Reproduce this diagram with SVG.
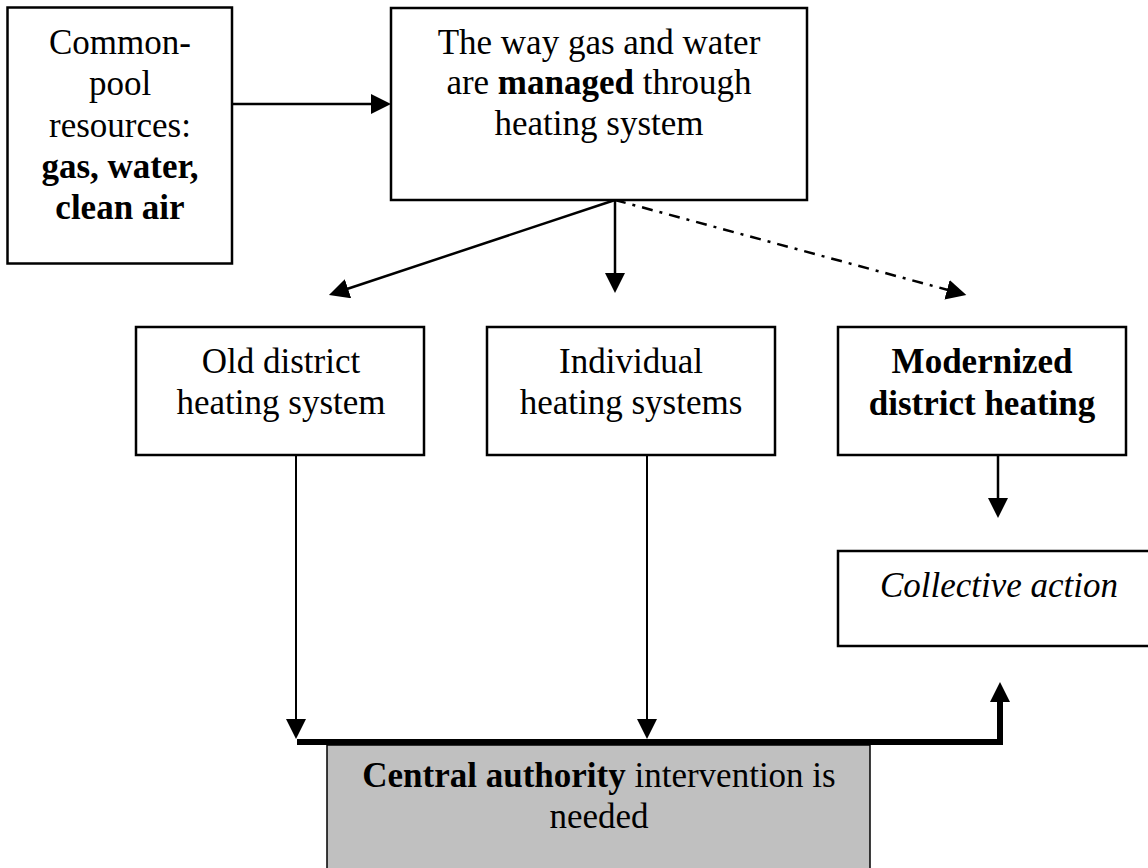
<svg xmlns="http://www.w3.org/2000/svg" width="1148" height="868" viewBox="0 0 1148 868">
<style>
  .box { fill: #ffffff; stroke: #000000; stroke-width: 2.5; }
  .gray { fill: #c0c0c0; stroke: #000000; stroke-width: 1.5; }
  text { font-family: "Liberation Serif", "Times New Roman", serif; font-size: 35px; fill: #000000; text-anchor: middle; }
  .b { font-weight: bold; }
  .i { font-style: italic; }
  .ln { fill: none; stroke: #000000; stroke-width: 2.5; }
  .thin { fill: none; stroke: #000000; stroke-width: 2; }
  .dd { fill: none; stroke: #000000; stroke-width: 2.5; stroke-dasharray: 11 7 3 7; }
  .bus { fill: none; stroke: #000000; stroke-width: 6; }
</style>
<defs>
  <marker id="ah" markerUnits="userSpaceOnUse" markerWidth="22" markerHeight="22" refX="1" refY="10" orient="auto" viewBox="0 0 22 22">
    <path d="M0,0 L20,10 L0,20 Z" fill="#000000"/>
  </marker>
</defs>
<rect width="1148" height="868" fill="#ffffff"/>

<g id="connectors">
  <line class="ln" x1="232" y1="104" x2="372" y2="104" marker-end="url(#ah)"/>
  <line class="ln" x1="615" y1="200" x2="347" y2="289" marker-end="url(#ah)"/>
  <line class="ln" x1="615" y1="200" x2="615" y2="274" marker-end="url(#ah)"/>
  <line class="dd" x1="615" y1="200" x2="948" y2="290" marker-end="url(#ah)"/>
  <line class="thin" x1="296" y1="455" x2="296" y2="720" marker-end="url(#ah)"/>
  <line class="thin" x1="647" y1="455" x2="647" y2="720" marker-end="url(#ah)"/>
  <line class="ln" x1="998" y1="455" x2="998" y2="499" marker-end="url(#ah)"/>
  <line class="bus" x1="297" y1="742" x2="1003" y2="742"/>
  <line class="bus" x1="1000" y1="745" x2="1000" y2="701" marker-end="url(#ah)"/>
</g>

<g id="node-common-pool">
  <rect class="box" x="7.5" y="7.5" width="224.5" height="256"/>
  <text x="120" y="54">Common-</text>
  <text x="120" y="95">pool</text>
  <text x="120" y="137">resources:</text>
  <text x="120" y="178" class="b">gas, water,</text>
  <text x="120" y="219" class="b">clean air</text>
</g>

<g id="node-managed">
  <rect class="box" x="391" y="8" width="416" height="192"/>
  <text x="599" y="54">The way gas and water</text>
  <text x="599" y="94">are <tspan class="b">managed</tspan> through</text>
  <text x="599" y="135">heating system</text>
</g>

<g id="node-old">
  <rect class="box" x="136" y="327" width="288" height="128"/>
  <text x="281" y="373">Old district</text>
  <text x="281" y="414">heating system</text>
</g>

<g id="node-individual">
  <rect class="box" x="487" y="327" width="288" height="128"/>
  <text x="631" y="373">Individual</text>
  <text x="631" y="414">heating systems</text>
</g>

<g id="node-modernized">
  <rect class="box" x="838" y="327" width="288" height="128"/>
  <text x="982" y="373" class="b">Modernized</text>
  <text x="982" y="415" class="b">district heating</text>
</g>

<g id="node-collective">
  <rect class="box" x="838" y="551" width="330" height="95"/>
  <text x="999" y="597" class="i">Collective action</text>
</g>

<g id="node-central">
  <rect class="gray" x="327" y="745" width="543" height="140"/>
  <text x="599" y="787"><tspan class="b">Central authority</tspan> intervention is</text>
  <text x="599" y="828">needed</text>
</g>
</svg>
